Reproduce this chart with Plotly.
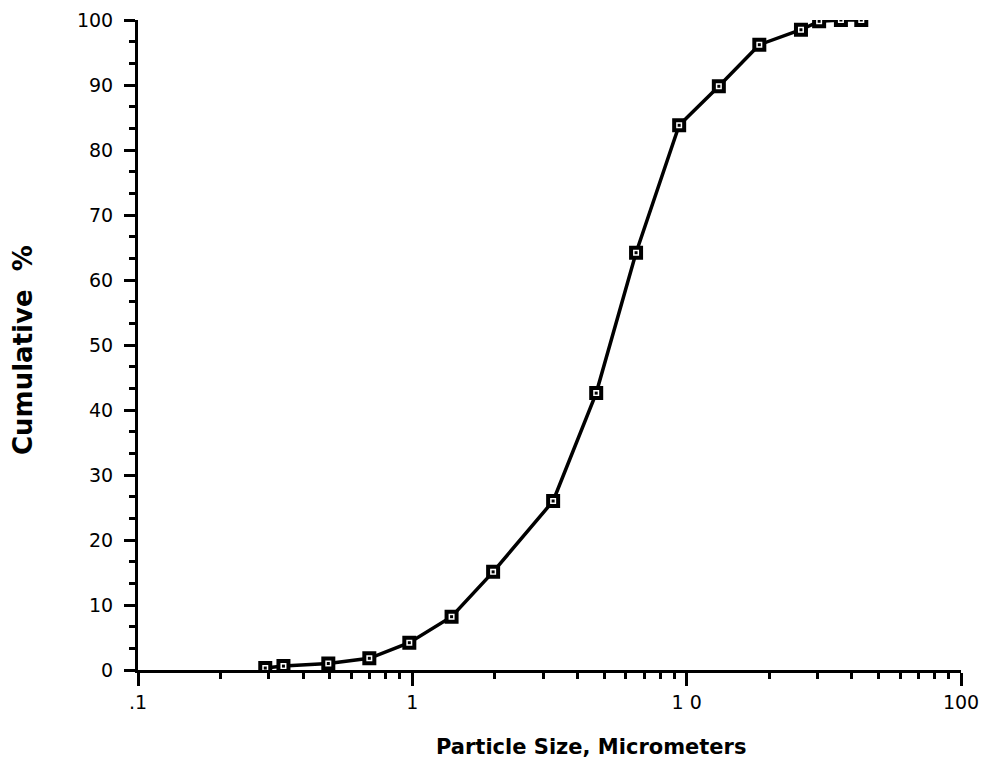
import plotly.graph_objects as go

sizes = [0.291, 0.339, 0.494, 0.697, 0.975, 1.39, 1.97, 3.26, 4.68, 6.54, 9.39, 13.1, 18.4, 26.1, 30.4, 36.5, 43.3]
cumulative = [0.3, 0.6, 1.0, 1.8, 4.2, 8.2, 15.1, 26.0, 42.6, 64.2, 83.8, 89.8, 96.2, 98.5, 99.8, 100.0, 100.0]

x_tickvals = [0.1, 1, 10, 100]
x_ticktext = [".1", "1", "1 0", "100"]
x_minor = [m * d for d in [0.1, 1, 10] for m in range(2, 10)]
y_tickvals = [0, 10, 20, 30, 40, 50, 60, 70, 80, 90, 100]

TICKFONT = "DejaVu Sans, Liberation Sans, Arial, sans-serif"
TITLEFONT = "DejaVu Sans, Liberation Sans, Arial, sans-serif"

# page body has an 8px margin; figure size/margins compensate for it
W, H = 971, 754
L, R, T, B = 130, 18, 12, 92
plot_w = W - L - R
plot_h = H - T - B

fig = go.Figure()
fig.add_trace(go.Scatter(x=sizes, y=cumulative, mode="lines",
                         line=dict(color="black", width=3.5), hoverinfo="skip"))
fig.add_trace(go.Scatter(x=sizes, y=cumulative, mode="markers",
                         marker=dict(symbol="square", size=10, color="white",
                                     line=dict(color="black", width=4))))
fig.add_trace(go.Scatter(x=sizes, y=cumulative, mode="markers",
                         marker=dict(symbol="square", size=3, color="black")))

fig.update_layout(
    width=W, height=H,
    margin=dict(l=L, r=R, t=T, b=B, autoexpand=False),
    paper_bgcolor="white", plot_bgcolor="white",
    showlegend=False,
    font=dict(family=TICKFONT, size=19, color="black"),
    xaxis=dict(type="log", range=[-1, 2], tickvals=x_tickvals, ticktext=x_ticktext,
               automargin=False, ticklabeloverflow="allow",
               showgrid=False, zeroline=False, showline=True, linecolor="black", linewidth=3,
               ticks="outside", ticklen=13, tickwidth=3, tickcolor="black",
               minor=dict(tickvals=x_minor, ticks="outside", ticklen=6, tickwidth=3, tickcolor="black"),
               tickfont=dict(size=19), ticklabelstandoff=0),
    yaxis=dict(range=[0, 100], tickvals=y_tickvals,
               automargin=False, ticklabeloverflow="allow",
               showgrid=False, zeroline=False, showline=True, linecolor="black", linewidth=3,
               ticks="outside", ticklen=11, tickwidth=3, tickcolor="black",
               minor=dict(dtick=10/3, ticks="outside", ticklen=6, tickwidth=3, tickcolor="black"),
               tickfont=dict(size=19), ticklabelstandoff=7),
    annotations=[
        dict(text="<b>Particle Size, Micrometers</b>", xref="paper", yref="paper",
             x=(583 - L) / plot_w, y=(H - B - 739) / plot_h,
             xanchor="center", yanchor="middle",
             showarrow=False, font=dict(family=TITLEFONT, size=21)),
        dict(text="<b>Cumulative  %</b>", xref="paper", yref="paper",
             x=(15 - L) / plot_w, y=(H - B - 342) / plot_h,
             xanchor="center", yanchor="middle",
             showarrow=False, textangle=-90, font=dict(family=TITLEFONT, size=26)),
    ],
)

fig.write_html("out.html")
